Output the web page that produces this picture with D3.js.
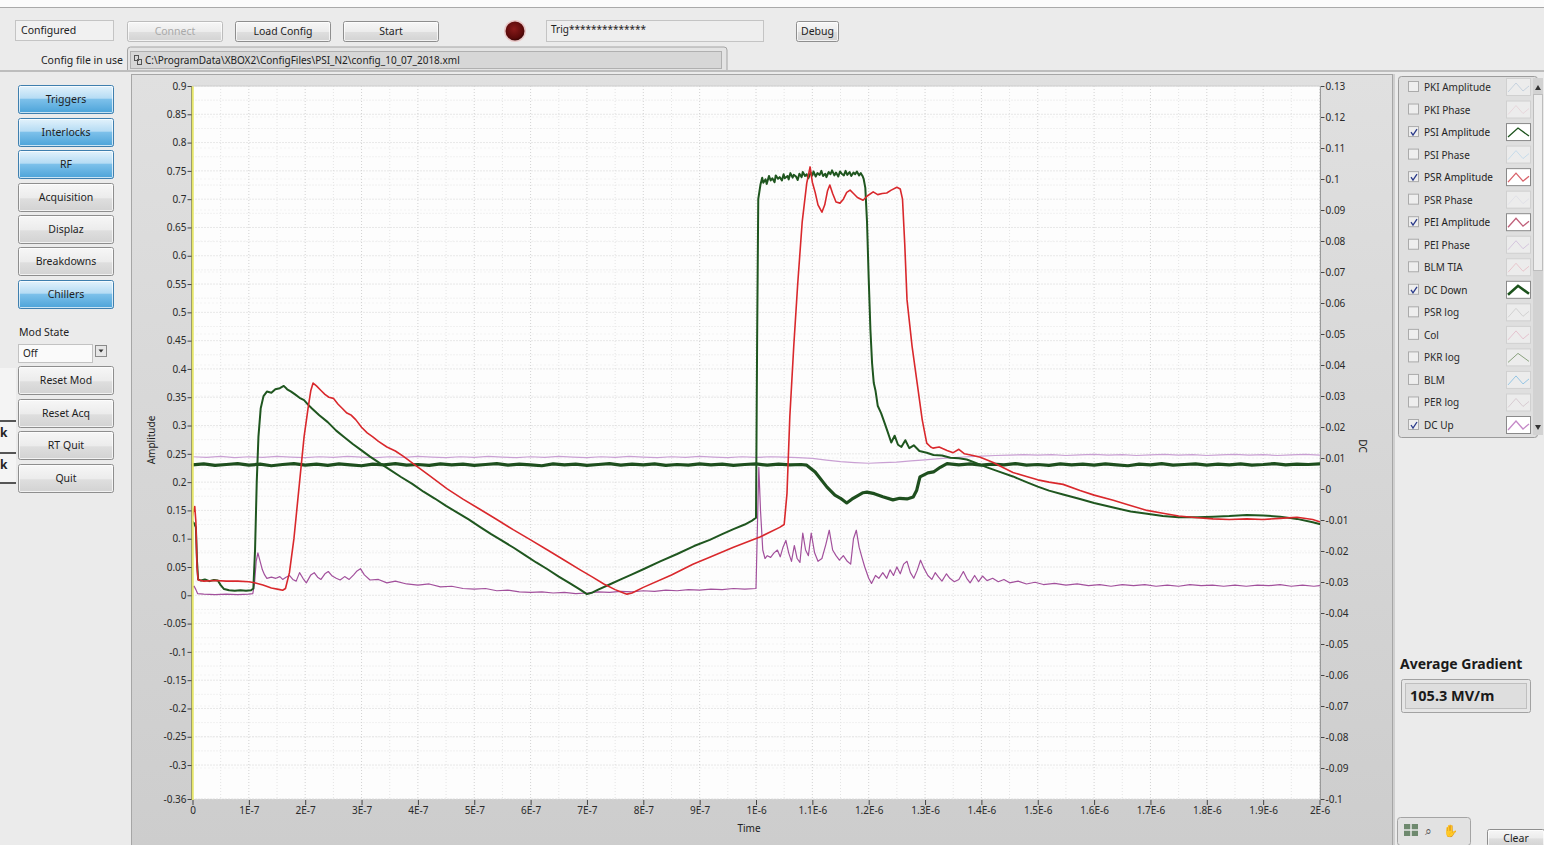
<!DOCTYPE html>
<html><head><meta charset="utf-8">
<script src="https://cdn.jsdelivr.net/npm/d3@7"></script>
<style>
html,body{margin:0;padding:0;background:#ebebeb;overflow:hidden}
svg{display:block}
text{font-family:"Noto Sans","DejaVu Sans",sans-serif;fill:#222}
</style></head><body>
<svg id="c" width="1544" height="845"></svg>
<script>
// ---- axis ticks ----
const timeTicks = [0,1e-7,2e-7,3e-7,4e-7,5e-7,6e-7,7e-7,8e-7,9e-7,1e-6,1.1e-6,1.2e-6,1.3e-6,1.4e-6,1.5e-6,1.6e-6,1.7e-6,1.8e-6,1.9e-6,2e-6];
const timeTickLabels = ["0","1E-7","2E-7","3E-7","4E-7","5E-7","6E-7","7E-7","8E-7","9E-7","1E-6","1.1E-6","1.2E-6","1.3E-6","1.4E-6","1.5E-6","1.6E-6","1.7E-6","1.8E-6","1.9E-6","2E-6"];
const ampTicks = [0.9,0.85,0.8,0.75,0.7,0.65,0.6,0.55,0.5,0.45,0.4,0.35,0.3,0.25,0.2,0.15,0.1,0.05,0,-0.05,-0.1,-0.15,-0.2,-0.25,-0.3,-0.36];
const dcTicks = [0.13,0.12,0.11,0.1,0.09,0.08,0.07,0.06,0.05,0.04,0.03,0.02,0.01,0,-0.01,-0.02,-0.03,-0.04,-0.05,-0.06,-0.07,-0.08,-0.09,-0.1];
const ampDomain = [-0.36, 0.9];
const dcDomain = [-0.1, 0.13];
const timeDomain = [0, 2e-6];

// ---- traces: [time in ns, value] ----
const psiAmplitude = [[0,0.13],[3,0.127],[6,0.12],[8,0.06],[10,0.028],[15,0.026],[22,0.028],[30,0.025],[38,0.027],[45,0.026],[50,0.018],[56,0.011],[65,0.009],[75,0.008],[85,0.009],[95,0.008],[104,0.009],[108,0.012],[111,0.08],[114,0.2],[117,0.28],[121,0.33],[126,0.352],[132,0.36],[140,0.358],[147,0.364],[155,0.366],[162,0.37],[168,0.364],[175,0.36],[182,0.355],[190,0.349],[198,0.345],[205,0.337],[212,0.33],[225,0.318],[240,0.306],[255,0.291],[270,0.279],[285,0.267],[300,0.256],[315,0.245],[333,0.233],[350,0.222],[370,0.209],[390,0.197],[410,0.183],[430,0.171],[450,0.158],[470,0.146],[490,0.134],[510,0.121],[530,0.108],[550,0.096],[570,0.084],[590,0.071],[610,0.058],[630,0.046],[650,0.033],[670,0.021],[688,0.01],[700,0.002],[710,0.005],[720,0.01],[740,0.019],[760,0.028],[780,0.037],[800,0.046],[830,0.06],[860,0.073],[890,0.087],[918,0.098],[940,0.108],[960,0.117],[980,0.125],[993,0.132],[1000,0.137],[1002,0.45],[1004,0.7],[1008,0.726],[1011,0.738],[1013,0.729],[1017,0.735],[1019,0.727],[1023,0.741],[1026,0.733],[1029,0.737],[1033,0.73],[1035,0.742],[1039,0.736],[1042,0.739],[1046,0.733],[1049,0.744],[1051,0.737],[1056,0.741],[1058,0.735],[1061,0.746],[1065,0.738],[1067,0.743],[1071,0.74],[1074,0.734],[1077,0.745],[1081,0.739],[1083,0.748],[1087,0.741],[1090,0.744],[1093,0.737],[1097,0.747],[1100,0.742],[1102,0.749],[1106,0.74],[1109,0.746],[1113,0.743],[1116,0.75],[1119,0.741],[1123,0.745],[1125,0.739],[1129,0.748],[1132,0.744],[1135,0.751],[1139,0.742],[1142,0.747],[1146,0.74],[1149,0.749],[1152,0.745],[1156,0.742],[1159,0.75],[1162,0.743],[1166,0.748],[1169,0.741],[1173,0.747],[1176,0.744],[1179,0.749],[1183,0.742],[1186,0.746],[1189,0.741],[1191,0.736],[1194,0.72],[1197,0.66],[1200,0.56],[1203,0.47],[1206,0.41],[1209,0.375],[1212,0.362],[1216,0.335],[1222,0.322],[1228,0.305],[1234,0.288],[1240,0.27],[1246,0.282],[1252,0.266],[1258,0.262],[1265,0.274],[1272,0.26],[1280,0.265],[1290,0.255],[1303,0.252],[1315,0.248],[1330,0.247],[1345,0.243],[1360,0.242],[1374,0.24],[1390,0.234],[1410,0.226],[1430,0.219],[1456,0.21],[1480,0.2],[1500,0.192],[1520,0.185],[1545,0.178],[1575,0.17],[1600,0.163],[1634,0.155],[1665,0.148],[1694,0.144],[1722,0.14],[1750,0.138],[1783,0.138],[1811,0.139],[1840,0.14],[1871,0.142],[1900,0.141],[1930,0.139],[1960,0.135],[1988,0.129],[2000,0.126]];

const psrAmplitude = [[0,0.14],[2,0.15],[4,0.157],[6,0.13],[8,0.05],[10,0.027],[20,0.025],[40,0.026],[60,0.025],[80,0.025],[100,0.024],[110,0.022],[125,0.018],[140,0.013],[155,0.01],[160,0.009],[165,0.012],[172,0.04],[180,0.1],[190,0.2],[198,0.28],[205,0.33],[210,0.362],[214,0.375],[220,0.37],[228,0.362],[235,0.355],[242,0.35],[250,0.348],[258,0.338],[266,0.33],[274,0.322],[282,0.318],[290,0.31],[300,0.297],[310,0.287],[320,0.28],[330,0.272],[345,0.262],[360,0.255],[375,0.245],[391,0.233],[420,0.212],[452,0.188],[480,0.17],[510,0.152],[540,0.134],[569,0.116],[600,0.098],[630,0.08],[660,0.062],[688,0.045],[710,0.032],[730,0.02],[750,0.01],[765,0.004],[771,0.002],[780,0.004],[800,0.014],[850,0.036],[888,0.055],[920,0.068],[960,0.085],[1007,0.103],[1042,0.12],[1050,0.125],[1055,0.18],[1060,0.315],[1067,0.44],[1074,0.55],[1082,0.66],[1090,0.728],[1096,0.757],[1100,0.73],[1105,0.712],[1110,0.69],[1117,0.677],[1122,0.69],[1127,0.715],[1131,0.725],[1136,0.71],[1142,0.695],[1149,0.693],[1155,0.7],[1161,0.712],[1167,0.716],[1173,0.71],[1180,0.703],[1190,0.698],[1198,0.706],[1208,0.713],[1216,0.708],[1224,0.71],[1232,0.711],[1240,0.716],[1250,0.721],[1256,0.718],[1260,0.7],[1264,0.62],[1268,0.522],[1277,0.44],[1286,0.375],[1295,0.31],[1303,0.269],[1310,0.262],[1314,0.26],[1325,0.262],[1339,0.256],[1350,0.252],[1360,0.258],[1370,0.25],[1385,0.247],[1398,0.244],[1420,0.235],[1440,0.225],[1456,0.217],[1480,0.21],[1500,0.204],[1520,0.2],[1545,0.196],[1575,0.185],[1600,0.177],[1634,0.168],[1660,0.16],[1694,0.15],[1722,0.145],[1750,0.14],[1783,0.137],[1811,0.135],[1840,0.134],[1871,0.135],[1900,0.134],[1930,0.136],[1960,0.138],[1988,0.134],[2000,0.13]];

const peiAmplitude = [[0,0.014],[3,0.016],[6,0.01],[9,0.003],[20,0.002],[40,0.001],[60,0.002],[80,0.001],[100,0.002],[107,0.003],[110,0.02],[113,0.06],[116,0.075],[120,0.06],[124,0.045],[128,0.036],[132,0.03],[140,0.032],[148,0.03],[155,0.033],[160,0.028],[166,0.032],[172,0.035],[178,0.028],[184,0.025],[190,0.04],[196,0.03],[202,0.022],[210,0.036],[216,0.04],[222,0.032],[228,0.028],[235,0.038],[241,0.042],[248,0.034],[255,0.03],[262,0.027],[270,0.033],[278,0.028],[286,0.036],[292,0.043],[298,0.047],[305,0.036],[315,0.027],[330,0.028],[345,0.022],[360,0.025],[380,0.02],[400,0.018],[420,0.02],[440,0.015],[460,0.016],[480,0.012],[500,0.011],[520,0.012],[540,0.008],[560,0.009],[580,0.006],[600,0.005],[620,0.006],[640,0.004],[660,0.005],[680,0.003],[700,0.004],[720,0.006],[740,0.005],[760,0.007],[780,0.006],[800,0.008],[820,0.007],[840,0.009],[860,0.008],[880,0.01],[900,0.009],[920,0.011],[940,0.01],[960,0.012],[980,0.011],[1000,0.012],[1002,0.1],[1005,0.226],[1008,0.15],[1012,0.08],[1016,0.065],[1020,0.07],[1026,0.067],[1032,0.075],[1038,0.08],[1043,0.068],[1048,0.085],[1053,0.097],[1058,0.075],[1063,0.06],[1068,0.088],[1073,0.065],[1078,0.058],[1083,0.11],[1088,0.08],[1093,0.07],[1098,0.11],[1104,0.075],[1110,0.06],[1117,0.065],[1124,0.09],[1130,0.115],[1136,0.08],[1142,0.07],[1148,0.062],[1155,0.07],[1162,0.06],[1168,0.055],[1173,0.1],[1178,0.115],[1183,0.085],[1188,0.067],[1193,0.05],[1200,0.03],[1205,0.021],[1212,0.035],[1218,0.03],[1225,0.04],[1232,0.03],[1238,0.045],[1244,0.035],[1250,0.05],[1256,0.038],[1262,0.055],[1268,0.06],[1274,0.04],[1280,0.03],[1286,0.044],[1292,0.062],[1298,0.048],[1305,0.035],[1312,0.028],[1318,0.04],[1324,0.032],[1330,0.025],[1338,0.038],[1344,0.03],[1352,0.024],[1360,0.028],[1368,0.042],[1374,0.03],[1380,0.022],[1388,0.035],[1395,0.024],[1402,0.034],[1410,0.026],[1420,0.03],[1430,0.024],[1440,0.028],[1450,0.022],[1465,0.025],[1480,0.02],[1495,0.023],[1510,0.019],[1530,0.021],[1550,0.018],[1570,0.02],[1590,0.017],[1610,0.019],[1630,0.016],[1650,0.019],[1670,0.017],[1690,0.019],[1710,0.016],[1730,0.018],[1750,0.016],[1770,0.019],[1790,0.017],[1810,0.018],[1830,0.016],[1850,0.018],[1870,0.016],[1890,0.018],[1910,0.017],[1930,0.019],[1950,0.016],[1970,0.018],[1990,0.016],[2000,0.017]];

// DC channels are read against the right-hand scale
const dcDown = [[0,0.0078],[20,0.0081],[40,0.0076],[60,0.0079],[80,0.0082],[100,0.0077],[120,0.008],[140,0.0075],[160,0.0079],[180,0.0082],[200,0.0077],[220,0.008],[240,0.0076],[260,0.0081],[280,0.0078],[300,0.0075],[320,0.008],[340,0.0078],[360,0.0082],[380,0.0077],[400,0.0079],[420,0.0076],[440,0.0081],[460,0.0078],[480,0.008],[500,0.0076],[520,0.0079],[540,0.0082],[560,0.0077],[580,0.008],[600,0.0078],[620,0.0075],[640,0.0081],[660,0.0078],[680,0.008],[700,0.0076],[720,0.0079],[740,0.0082],[760,0.0077],[780,0.008],[800,0.0078],[820,0.0081],[840,0.0076],[860,0.0079],[880,0.0077],[900,0.0081],[920,0.0078],[940,0.008],[960,0.0076],[980,0.0079],[1000,0.0081],[1020,0.0077],[1040,0.008],[1060,0.0078],[1080,0.0079],[1090,0.0077],[1105,0.0055],[1126,0.0006],[1140,-0.002],[1150,-0.003],[1161,-0.0045],[1170,-0.0033],[1180,-0.0022],[1190,-0.0012],[1197,-0.001],[1210,-0.0015],[1225,-0.0025],[1243,-0.0035],[1255,-0.003],[1268,-0.0032],[1279,-0.0026],[1285,-0.0005],[1291,0.0039],[1305,0.0052],[1315,0.0055],[1327,0.007],[1339,0.0082],[1360,0.0078],[1380,0.0081],[1400,0.0077],[1420,0.008],[1440,0.0078],[1460,0.0082],[1480,0.0077],[1500,0.0079],[1520,0.0076],[1540,0.0081],[1560,0.0078],[1580,0.008],[1600,0.0077],[1620,0.0081],[1640,0.0078],[1660,0.0075],[1680,0.008],[1700,0.0078],[1720,0.0082],[1740,0.0077],[1760,0.0079],[1780,0.0081],[1800,0.0077],[1820,0.008],[1840,0.0078],[1860,0.0081],[1880,0.0077],[1900,0.0079],[1920,0.0082],[1940,0.0078],[1960,0.008],[1980,0.0079],[2000,0.0081]];

const dcUp = [[0,0.0104],[25,0.0102],[50,0.0105],[75,0.0101],[100,0.0104],[125,0.0102],[150,0.0105],[175,0.0103],[200,0.0101],[225,0.0104],[250,0.0102],[275,0.0105],[300,0.0103],[325,0.0101],[350,0.0104],[375,0.0102],[400,0.0105],[425,0.0103],[450,0.0101],[475,0.0104],[500,0.0102],[525,0.0105],[550,0.0103],[575,0.0101],[600,0.0104],[625,0.0102],[650,0.0105],[675,0.0103],[700,0.0101],[725,0.0104],[750,0.0102],[775,0.0105],[800,0.0103],[825,0.0101],[850,0.0104],[875,0.0102],[900,0.0105],[925,0.0103],[950,0.0101],[975,0.0104],[1000,0.0102],[1025,0.0104],[1050,0.0103],[1075,0.0101],[1100,0.0099],[1125,0.0093],[1150,0.0088],[1175,0.0085],[1200,0.0083],[1225,0.0085],[1250,0.0087],[1275,0.0091],[1300,0.0094],[1325,0.0098],[1350,0.0101],[1375,0.0104],[1400,0.0106],[1425,0.0108],[1450,0.0109],[1475,0.0111],[1500,0.0109],[1525,0.0111],[1550,0.0108],[1575,0.011],[1600,0.0112],[1625,0.0109],[1650,0.0111],[1675,0.0108],[1700,0.011],[1725,0.0112],[1750,0.0109],[1775,0.0111],[1800,0.0108],[1825,0.011],[1850,0.0112],[1875,0.0109],[1900,0.0111],[1925,0.0108],[1950,0.011],[1975,0.0112],[2000,0.0109]];

// ---- plot legend entries ----
const legendNames = ["PKI Amplitude","PKI Phase","PSI Amplitude","PSI Phase","PSR Amplitude","PSR Phase","PEI Amplitude","PEI Phase","BLM TIA","DC Down","PSR log","Col","PKR log","BLM","PER log","DC Up"];
const legendChecked = [false,false,true,false,true,false,true,false,false,true,false,false,false,false,false,true];
const legendColors = ["#b8c8d8","#e6cfd6","#1d531d","#b9d6ea","#d8626a","#dcdce6","#c0607a","#ccb8d8","#e6b8c0","#1d531d","#c8c8c8","#e2b4c4","#6a8a5a","#7ab8e0","#d0c0c8","#c58ac8"];

const leftButtons = ["Triggers","Interlocks","RF","Acquisition","Displaz","Breakdowns","Chillers"];
const leftButtonsActive = [true,true,true,false,false,false,true];
const modButtons = ["Reset Mod","Reset Acq","RT Quit","Quit"];

const svg = d3.select("#c");
const defs = svg.append("defs");

function grad(id, stops, vertical=true){
  const g = defs.append("linearGradient").attr("id",id)
    .attr("x1",0).attr("y1",0).attr("x2",vertical?0:1).attr("y2",vertical?1:0);
  stops.forEach(s=>g.append("stop").attr("offset",s[0]).attr("stop-color",s[1]));
}
grad("btnGray",[[0,"#f7f7f7"],[0.5,"#ececec"],[0.55,"#dedede"],[1,"#d2d2d2"]]);
grad("btnBlue",[[0,"#e4f3fc"],[0.45,"#b6dcf4"],[0.5,"#7cc0ea"],[1,"#4aa2d8"]]);
grad("panelGrad",[[0,"#e0e0e0"],[1,"#cdcdcd"]]);
const rg = defs.append("radialGradient").attr("id","led").attr("cx","45%").attr("cy","40%").attr("r","60%");
rg.append("stop").attr("offset",0).attr("stop-color","#8a1a1a");
rg.append("stop").attr("offset",0.8).attr("stop-color","#5a0a0a");
rg.append("stop").attr("offset",1).attr("stop-color","#3a0505");

// ---- window background ----
svg.append("rect").attr("width",1544).attr("height",845).attr("fill","#ebebeb");
svg.append("rect").attr("width",1544).attr("height",7).attr("fill","#fbfbfb");
svg.append("line").attr("x1",0).attr("x2",1544).attr("y1",7.5).attr("y2",7.5).attr("stroke","#a9a9a9");
svg.append("line").attr("x1",0).attr("x2",1544).attr("y1",71).attr("y2",71).attr("stroke","#bdbdbd").attr("stroke-width",2);

function button(x,y,w,h,label,opts={}){
  const g = svg.append("g");
  g.append("rect").attr("x",x+0.5).attr("y",y+0.5).attr("width",w).attr("height",h).attr("rx",2)
    .attr("fill",opts.blue?"url(#btnBlue)":"url(#btnGray)")
    .attr("stroke",opts.blue?"#3f7fae":(opts.disabled?"#bcbcbc":"#8e8e8e"));
  g.append("rect").attr("x",x+1.5).attr("y",y+1.5).attr("width",w-2).attr("height",h-2).attr("rx",1)
    .attr("fill","none").attr("stroke","rgba(255,255,255,0.7)");
  g.append("text").attr("x",x+w/2+0.5).attr("y",y+h/2+4).attr("text-anchor","middle")
    .attr("font-size",opts.size||10.5).style("fill",opts.disabled?"#a9a9a9":"#1e1e1e").text(label);
}
function field(x,y,w,h,fill){
  svg.append("rect").attr("x",x+0.5).attr("y",y+0.5).attr("width",w).attr("height",h)
    .attr("fill",fill||"#f3f3f3").attr("stroke","#c4c4c4");
}

// ---- top bar ----
field(15,20,98,20,"#f1f1f1");
svg.append("text").attr("x",21).attr("y",34).attr("font-size",10.5).text("Configured");
button(127,21,95,20,"Connect",{disabled:true});
button(235,21,95,20,"Load Config");
button(343,21,95,20,"Start");
svg.append("circle").attr("cx",515).attr("cy",31).attr("r",11).attr("fill","#e8c6c6");
svg.append("circle").attr("cx",515).attr("cy",31).attr("r",9.5).attr("fill","url(#led)");
field(546,20,217,21,"#eeeeee");
svg.append("text").attr("x",551).attr("y",33).attr("font-size",10).text("Trig**************");
button(796,21,42,20,"Debug");
svg.append("text").attr("x",123).attr("y",64).attr("text-anchor","end").attr("font-size",10.5).text("Config file in use");
svg.append("path").attr("d","M127.5,70 V50 q0,-3 3,-3 H724 q3,0 3,3 V70").attr("fill","#e4e4e4").attr("stroke","#a4a4a4");
svg.append("rect").attr("x",130.5).attr("y",51.5).attr("width",591).attr("height",17).attr("fill","#d7d7d7").attr("stroke","#b0b0b0");
// small file-path icon
svg.append("rect").attr("x",134.5).attr("y",55.5).attr("width",4).attr("height",5).attr("fill","none").attr("stroke","#555");
svg.append("rect").attr("x",137.5).attr("y",59.5).attr("width",4).attr("height",5).attr("fill","none").attr("stroke","#555");
svg.append("text").attr("x",145).attr("y",64).attr("font-size",10).text("C:\\ProgramData\\XBOX2\\ConfigFiles\\PSI_N2\\config_10_07_2018.xml");

// ---- left column ----
const btnY = [85,118,150,183,215,247,280];
leftButtons.forEach((b,i)=>button(18,btnY[i],95,28,b,{blue:leftButtonsActive[i]}));
svg.append("text").attr("x",19).attr("y",336).attr("font-size",10.5).text("Mod State");
svg.append("rect").attr("x",18.5).attr("y",344.5).attr("width",74).attr("height",18).attr("fill","#fafafa").attr("stroke","#c2c2c2");
svg.append("text").attr("x",23).attr("y",357).attr("font-size",10).text("Off");
svg.append("rect").attr("x",95.5).attr("y",345.5).attr("width",11).attr("height",11).attr("fill","#e6e6e6").attr("stroke","#8a8a8a");
svg.append("path").attr("d","M98.5,349.5 h5 l-2.5,3 z").attr("fill","#333");
// window peeking out at the left edge
svg.append("rect").attr("x",0).attr("y",368).attr("width",16).attr("height",116).attr("fill","#f4f4f4");
svg.append("rect").attr("x",0).attr("y",420).attr("width",16).attr("height",2).attr("fill","#555");
svg.append("rect").attr("x",0).attr("y",452).attr("width",16).attr("height",2).attr("fill","#555");
svg.append("rect").attr("x",0).attr("y",482).attr("width",16).attr("height",2).attr("fill","#555");
svg.append("text").attr("x",0).attr("y",437).attr("font-size",12).attr("font-weight","bold").text("k");
svg.append("text").attr("x",0).attr("y",469).attr("font-size",12).attr("font-weight","bold").text("k");
const modY = [366,399,431,464];
modButtons.forEach((b,i)=>button(18,modY[i],95,28,b));

// ---- graph panel ----
svg.append("rect").attr("x",131.5).attr("y",74.5).attr("width",1261).attr("height",772).attr("fill","url(#panelGrad)").attr("stroke","#a6a6a6");

const L = 192.5, R = 1319.5, T = 86, B = 799;
const x = d3.scaleLinear().domain(timeDomain).range([L,R]);
const yL = d3.scaleLinear().domain(ampDomain).range([B,T]);
const yR = d3.scaleLinear().domain(dcDomain).range([B,T]);

svg.append("rect").attr("x",L).attr("y",T).attr("width",R-L).attr("height",B-T).attr("fill","#fdfdfd");

const grid = svg.append("g");
// minor grid at half steps
const minorX = timeTicks.slice(0,-1).map(t=>t+0.5e-7);
const minorY = ampTicks.slice(0,-2).map(v=>v-0.025);
grid.selectAll(".mx").data(minorX).join("line").attr("x1",d=>x(d)).attr("x2",d=>x(d)).attr("y1",T).attr("y2",B)
  .attr("stroke","#e4e4e4").attr("stroke-dasharray","1,2");
grid.selectAll(".my").data(minorY).join("line").attr("y1",d=>yL(d)).attr("y2",d=>yL(d)).attr("x1",L).attr("x2",R)
  .attr("stroke","#e4e4e4").attr("stroke-dasharray","1,2");
grid.selectAll(".dy").data(dcTicks).join("line").attr("y1",d=>yR(d)).attr("y2",d=>yR(d)).attr("x1",L).attr("x2",R)
  .attr("stroke","#e9e9e9").attr("stroke-dasharray","1,3");
grid.selectAll(".gx").data(timeTicks).join("line").attr("x1",d=>x(d)).attr("x2",d=>x(d)).attr("y1",T).attr("y2",B)
  .attr("stroke","#d2d2d2").attr("stroke-dasharray","1,2");
grid.selectAll(".gy").data(ampTicks).join("line").attr("y1",d=>yL(d)).attr("y2",d=>yL(d)).attr("x1",L).attr("x2",R)
  .attr("stroke","#d2d2d2").attr("stroke-dasharray","1,2");

// ---- traces ----
const toSec = 1e-9;
const lineL = d3.line().x(d=>x(d[0]*toSec)).y(d=>yL(d[1]));
const lineR = d3.line().x(d=>x(d[0]*toSec)).y(d=>yR(d[1]));
const traces = svg.append("g").attr("fill","none").attr("stroke-linejoin","round").attr("stroke-linecap","round");
traces.append("path").attr("d",lineR(dcUp)).attr("stroke","#c9a0d3").attr("stroke-width",1.2);
traces.append("path").attr("d",lineL(peiAmplitude)).attr("stroke","#a2509c").attr("stroke-width",1.2);
traces.append("path").attr("d",lineR(dcDown)).attr("stroke","#1e4f1e").attr("stroke-width",3.2);
traces.append("path").attr("d",lineL(psiAmplitude)).attr("stroke","#1f561f").attr("stroke-width",2);
traces.append("path").attr("d",lineL(psrAmplitude)).attr("stroke","#d9282c").attr("stroke-width",1.6);

// cursor line at t = 0
svg.append("line").attr("x1",L).attr("x2",L).attr("y1",T).attr("y2",B+1).attr("stroke","#e6e66a").attr("stroke-width",2.5);
svg.append("line").attr("x1",L-1).attr("x2",L-1).attr("y1",T).attr("y2",B+1).attr("stroke","#8a8a6a").attr("stroke-width",0.8);
svg.append("line").attr("x1",L).attr("x2",R).attr("y1",T).attr("y2",T).attr("stroke","#cfcfcf");

// ---- axes ----
const fmt = v => String(+v.toFixed(3));
function styleAxis(g){
  g.select(".domain").remove();
  g.selectAll(".tick line").attr("stroke","#444");
  g.selectAll(".tick text").attr("font-size",10).style("fill","#2a2a2a")
    .attr("font-family","\"DejaVu Sans Condensed\",\"Liberation Sans Narrow\",\"Noto Sans\",sans-serif");
}
svg.append("g").attr("transform",`translate(${L-1},0)`)
  .call(d3.axisLeft(yL).tickValues(ampTicks).tickFormat(fmt).tickSize(4).tickPadding(1)).call(styleAxis);
svg.append("g").attr("transform",`translate(${R+1},0)`)
  .call(d3.axisRight(yR).tickValues(dcTicks).tickFormat(fmt).tickSize(4).tickPadding(1)).call(styleAxis);
svg.append("g").attr("transform",`translate(0,${B+1})`)
  .call(d3.axisBottom(x).tickValues(timeTicks).tickFormat((d,i)=>timeTickLabels[i]).tickSize(5).tickPadding(2)).call(styleAxis);
svg.append("line").attr("x1",R+1).attr("x2",R+1).attr("y1",T).attr("y2",B).attr("stroke","#9a9a9a");

svg.append("text").attr("transform","translate(155,440) rotate(-90)").attr("text-anchor","middle").attr("font-size",10).text("Amplitude");
svg.append("text").attr("transform","translate(1359,446) rotate(90)").attr("text-anchor","middle").attr("font-size",10).text("DC");
svg.append("text").attr("x",749).attr("y",832).attr("text-anchor","middle").attr("font-size",10).text("Time");

// ---- plot legend ----
svg.append("line").attr("x1",1394).attr("x2",1394).attr("y1",74).attr("y2",845).attr("stroke","#b4b4b4");
svg.append("rect").attr("x",1398.5).attr("y",76.5).attr("width",139).attr("height",361).attr("rx",3).attr("fill","#dfdfdf").attr("stroke","#9c9c9c");
svg.append("rect").attr("x",1533).attr("y",78).attr("width",10).attr("height",357).attr("fill","#d2d2d2");
svg.append("rect").attr("x",1533.5).attr("y",94.5).attr("width",9).attr("height",176).attr("fill","#ededed").attr("stroke","#bdbdbd");
svg.append("path").attr("d","M1535,90 l3,-5 l3,5 z").attr("fill","#333");
svg.append("path").attr("d","M1535,425 l3,5 l3,-5 z").attr("fill","#333");
const legY = d3.scaleLinear().domain([0,legendNames.length-1]).range([87,425]);
const leg = svg.append("g").selectAll("g").data(legendNames).join("g").attr("transform",(d,i)=>`translate(0,${legY(i)})`);
leg.append("rect").attr("x",1408.5).attr("y",-5.5).attr("width",10).attr("height",10).attr("fill","#eeeeee").attr("stroke","#ababab");
leg.filter((d,i)=>legendChecked[i]).append("path").attr("d","M1411,0 l2,3 l4,-6").attr("fill","none").attr("stroke","#2a3a8a").attr("stroke-width",1.3);
leg.append("text").attr("x",1424).attr("y",4).attr("font-size",10).style("fill",(d,i)=>legendChecked[i]?"#1e1e1e":"#2a2a2a").text(d=>d);
leg.append("rect").attr("x",1506.5).attr("y",-8.5).attr("width",24).attr("height",17)
  .attr("fill",(d,i)=>legendChecked[i]?"#ffffff":"#ececec").attr("stroke",(d,i)=>legendChecked[i]?"#8a8a8a":"#d0d0d0");
leg.append("path")
  .attr("d",(d,i)=>(i===2||i===9||i===12)?"M1508,5 L1518,-4 L1529,4":"M1508,5 L1516,-4 L1523,4 L1529,-1")
  .attr("fill","none").attr("stroke",(d,i)=>legendColors[i])
  .attr("stroke-width",(d,i)=>i===9?2.6:(legendChecked[i]?1.3:1))
  .attr("opacity",(d,i)=>legendChecked[i]?1:0.75);

// ---- average gradient indicator ----
svg.append("text").attr("x",1400).attr("y",669).attr("font-size",14).attr("font-weight","bold").style("fill","#1a1a1a").text("Average Gradient");
svg.append("rect").attr("x",1401.5).attr("y",679.5).attr("width",129).attr("height",33).attr("rx",2).attr("fill","#e6e6e6").attr("stroke","#a2a2a2");
svg.append("rect").attr("x",1405.5).attr("y",683.5).attr("width",121).attr("height",25).attr("fill","#dedede").attr("stroke","#bfbfbf");
svg.append("text").attr("x",1410).attr("y",701).attr("font-size",14.5).attr("font-weight","bold").style("fill","#1a1a1a").text("105.3 MV/m");

// ---- graph tools and clear button ----
svg.append("rect").attr("x",1397.5).attr("y",817.5).attr("width",73).attr("height",28).attr("rx",3).attr("fill","#e2e2e2").attr("stroke","#a4a4a4");
svg.append("rect").attr("x",1404).attr("y",824).attr("width",14).attr("height",12).attr("fill","#6f8a6f");
svg.append("path").attr("d","M1411,824 v12 M1404,830 h14").attr("stroke","#e8e8e8").attr("stroke-width",1.5);
svg.append("text").attr("x",1425).attr("y",835).attr("font-size",12).style("fill","#555").text("⌕");
svg.append("text").attr("x",1443).attr("y",835).attr("font-size",12).style("fill","#555").text("✋");
button(1487,829,57,17,"Clear");
</script>
</body></html>
